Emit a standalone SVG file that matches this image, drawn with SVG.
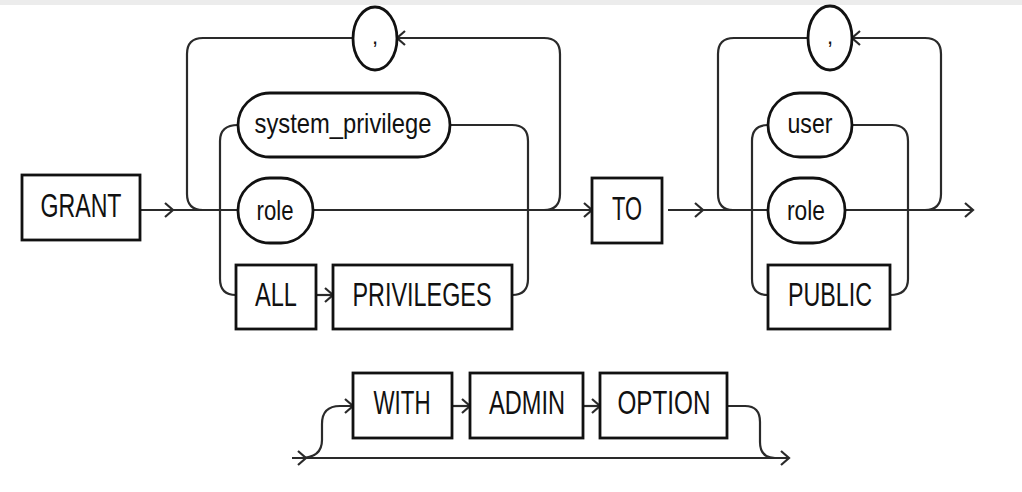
<svg xmlns="http://www.w3.org/2000/svg" xmlns:xlink="http://www.w3.org/1999/xlink" width="1022" height="492" viewBox="0 0 1022 492">
<style>
.box{fill:#fff;stroke:#111;stroke-width:2.8}
.ln{fill:none;stroke:#2a2a2a;stroke-width:2.2}
.ch{fill:none;stroke:#2a2a2a;stroke-width:2.2;stroke-linejoin:miter}
.kw{font-family:"Liberation Sans",Arial,sans-serif;font-size:33px;fill:#111;text-anchor:middle}
.lc{font-family:"Liberation Sans",Arial,sans-serif;font-size:28px;fill:#111;text-anchor:middle}
.cm{font-family:"Liberation Sans",Arial,sans-serif;font-size:22px;fill:#111;text-anchor:middle}
</style>
<defs>
<path id="chev" class="ch" d="M-8,-7 L0,0 L-8,7"/>
<path id="chevL" class="ch" d="M8,-7 L0,0 L8,7"/>
</defs>
<rect x="0" y="0" width="1022" height="5" fill="#ececec"/>
<g id="connectors">
<path class="ln" d="M140,210 H238"/>
<path class="ln" d="M313,210 H592"/>
<path class="ln" d="M203,210 Q187,210 187,194 V54 Q187,38 203,38 H353"/>
<path class="ln" d="M397,38 H544 Q560,38 560,54 V194 Q560,210 544,210"/>
<path class="ln" d="M238,125 Q220,125 220,141 V279 Q220,295 236,295"/>
<path class="ln" d="M450,125 H512 Q528,125 528,141 V279 Q528,295 512,295"/>
<path class="ln" d="M316,295 H333"/>
<path class="ln" d="M668,210 H768"/>
<path class="ln" d="M733,210 Q718,210 718,194 V54 Q718,38 734,38 H808"/>
<path class="ln" d="M852,38 H925 Q941,38 941,54 V194 Q941,210 925,210"/>
<path class="ln" d="M768,125 Q752,125 752,141 V279 Q752,295 768,295"/>
<path class="ln" d="M852,125 H892 Q908,125 908,141 V279 Q908,295 890,295"/>
<path class="ln" d="M845,210 H973"/>
<path class="ln" d="M292,458 H789"/>
<path class="ln" d="M300,458 Q322,458 322,440 V424 Q322,406 340,406 H353"/>
<path class="ln" d="M452,406 H470"/>
<path class="ln" d="M583,406 H600"/>
<path class="ln" d="M727,406 H745 Q760,406 760,422 V442 Q760,458 775,458"/>
<use xlink:href="#chev" x="173" y="210"/>
<use xlink:href="#chev" x="592" y="210"/>
<use xlink:href="#chevL" x="397" y="38"/>
<use xlink:href="#chev" x="333" y="295"/>
<use xlink:href="#chev" x="703" y="210"/>
<use xlink:href="#chevL" x="852" y="38"/>
<use xlink:href="#chev" x="973" y="210"/>
<use xlink:href="#chev" x="306" y="458"/>
<use xlink:href="#chev" x="353" y="406"/>
<use xlink:href="#chev" x="470" y="406"/>
<use xlink:href="#chev" x="600" y="406"/>
<use xlink:href="#chev" x="789" y="458"/>
</g>
<g id="grant"><rect class="box" x="22" y="175" width="118" height="65"/><text class="kw" x="81" y="217" textLength="81" lengthAdjust="spacingAndGlyphs">GRANT</text></g>
<g id="comma1"><ellipse class="box" cx="375" cy="38.5" rx="22" ry="31.5"/><text class="cm" x="375" y="44">,</text></g>
<g id="system_privilege"><rect class="box" x="238" y="93" width="212" height="64" rx="32"/><text class="lc" x="343" y="133" textLength="177" lengthAdjust="spacingAndGlyphs">system_privilege</text></g>
<g id="role1"><rect class="box" x="238" y="178" width="75" height="65" rx="32"/><text class="lc" x="275" y="220" textLength="37" lengthAdjust="spacingAndGlyphs">role</text></g>
<g id="all"><rect class="box" x="236" y="265" width="80" height="64"/><text class="kw" x="276" y="306" textLength="42" lengthAdjust="spacingAndGlyphs">ALL</text></g>
<g id="privileges"><rect class="box" x="333" y="265" width="179" height="64"/><text class="kw" x="422" y="306" textLength="139" lengthAdjust="spacingAndGlyphs">PRIVILEGES</text></g>
<g id="to"><rect class="box" x="592" y="178" width="70" height="65"/><text class="kw" x="627" y="220" textLength="30" lengthAdjust="spacingAndGlyphs">TO</text></g>
<g id="comma2"><ellipse class="box" cx="830" cy="38" rx="22" ry="32"/><text class="cm" x="830" y="44">,</text></g>
<g id="user"><rect class="box" x="768" y="93" width="84" height="64" rx="32"/><text class="lc" x="810" y="133" textLength="45" lengthAdjust="spacingAndGlyphs">user</text></g>
<g id="role2"><rect class="box" x="768" y="178" width="77" height="65" rx="32"/><text class="lc" x="806" y="220" textLength="38" lengthAdjust="spacingAndGlyphs">role</text></g>
<g id="public"><rect class="box" x="768" y="265" width="122" height="64"/><text class="kw" x="830" y="306" textLength="84" lengthAdjust="spacingAndGlyphs">PUBLIC</text></g>
<g id="with"><rect class="box" x="353" y="373" width="99" height="65"/><text class="kw" x="402" y="414" textLength="57" lengthAdjust="spacingAndGlyphs">WITH</text></g>
<g id="admin"><rect class="box" x="470" y="373" width="113" height="65"/><text class="kw" x="527" y="414" textLength="76" lengthAdjust="spacingAndGlyphs">ADMIN</text></g>
<g id="option"><rect class="box" x="600" y="373" width="127" height="65"/><text class="kw" x="664" y="414" textLength="93" lengthAdjust="spacingAndGlyphs">OPTION</text></g>
</svg>
